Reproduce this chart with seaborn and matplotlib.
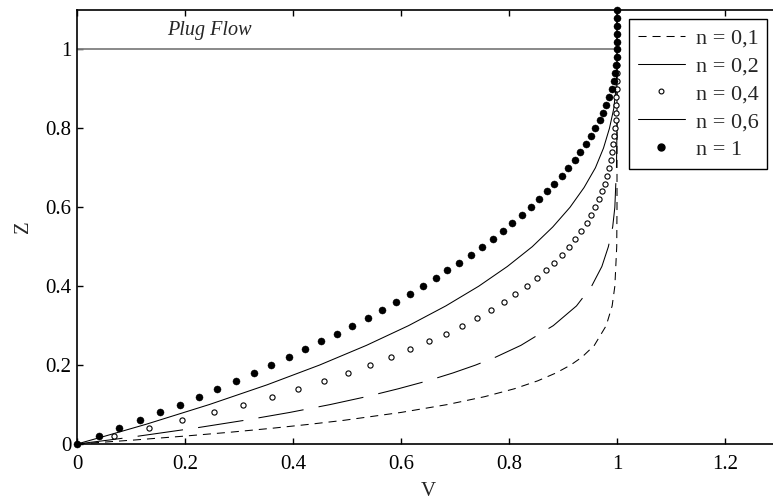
import numpy as np
import pandas as pd
import seaborn as sns
import matplotlib
matplotlib.use("Agg")
import matplotlib.pyplot as plt
from matplotlib.lines import Line2D

# ---------------- data ----------------
z_pts = [0.00, 0.02, 0.04, 0.06, 0.08, 0.10, 0.12, 0.14, 0.16, 0.18,
         0.20, 0.22, 0.24, 0.26, 0.28, 0.30, 0.32, 0.34, 0.36, 0.38,
         0.40, 0.42, 0.44, 0.46, 0.48, 0.50, 0.52, 0.54, 0.56, 0.58,
         0.60, 0.62, 0.64, 0.66, 0.68, 0.70, 0.72, 0.74, 0.76, 0.78,
         0.80, 0.82, 0.84, 0.86, 0.88, 0.90, 0.92, 0.94, 0.96, 0.98,
         1.00, 1.02, 1.04, 1.06, 1.08, 1.10]

v_n1 = [0.000, 0.040, 0.078, 0.116, 0.154, 0.190, 0.226, 0.260, 0.294, 0.328,
        0.360, 0.392, 0.422, 0.452, 0.482, 0.510, 0.538, 0.564, 0.590, 0.616,
        0.640, 0.664, 0.686, 0.708, 0.730, 0.750, 0.770, 0.788, 0.806, 0.824,
        0.840, 0.856, 0.870, 0.884, 0.898, 0.910, 0.922, 0.932, 0.942, 0.952,
        0.960, 0.968, 0.974, 0.980, 0.986, 0.990, 0.994, 0.996, 0.998, 1.000,
        1.000, 1.000, 1.000, 1.000, 1.000, 1.000]

v_n04 = [0.000, 0.068, 0.133, 0.195, 0.253, 0.308, 0.361, 0.410, 0.457, 0.501,
         0.542, 0.581, 0.617, 0.651, 0.683, 0.713, 0.741, 0.766, 0.790, 0.812,
         0.833, 0.851, 0.869, 0.884, 0.899, 0.912, 0.923, 0.934, 0.944, 0.952,
         0.960, 0.966, 0.972, 0.977, 0.982, 0.985, 0.988, 0.991, 0.993, 0.995,
         0.996, 0.998, 0.998, 0.999, 0.999, 1.000, 1.000, 1.000, 1.000, 1.000,
         1.000, 1.000, 1.000, 1.000, 1.000, 1.000]

z_n01 = [0.00, 0.01, 0.02, 0.03, 0.04, 0.05, 0.06, 0.08, 0.10, 0.12, 0.14,
         0.16, 0.18, 0.20, 0.22, 0.25, 0.30, 0.35, 0.40, 0.50, 0.60, 1.10]
v_n01 = [0.000, 0.105, 0.199, 0.285, 0.362, 0.431, 0.494, 0.600, 0.686, 0.755, 0.810,
         0.853, 0.887, 0.914, 0.935, 0.958, 0.980, 0.991, 0.996, 0.9995, 1.000, 1.000]

z_n02 = [0.00, 0.01, 0.02, 0.04, 0.06, 0.08, 0.10, 0.12, 0.14, 0.16, 0.18,
         0.20, 0.22, 0.25, 0.30, 0.35, 0.40, 0.45, 0.50, 0.55, 0.60, 0.70,
         0.80, 1.00, 1.10]
v_n02 = [0.000, 0.059, 0.114, 0.217, 0.310, 0.394, 0.469, 0.536, 0.595, 0.649, 0.696,
         0.738, 0.775, 0.822, 0.882, 0.925, 0.953, 0.972, 0.984, 0.992, 0.996, 0.999,
         1.000, 1.000, 1.000]

z_n06 = [0.00, 0.02, 0.05, 0.10, 0.15, 0.20, 0.25, 0.30, 0.35, 0.40, 0.45,
         0.50, 0.55, 0.60, 0.65, 0.70, 0.75, 0.80, 0.85, 0.90, 0.95, 1.00, 1.10]
v_n06 = [0.000, 0.052, 0.128, 0.245, 0.352, 0.449, 0.536, 0.614, 0.683, 0.744, 0.797,
         0.843, 0.881, 0.913, 0.939, 0.960, 0.975, 0.986, 0.994, 0.998, 1.000, 1.000, 1.000]

plug_v = [0.0, 1.0]
plug_z = [1.0, 1.0]

labels = ["n = 0,1", "n = 0,2", "n = 0,4", "n = 0,6", "n = 1"]
x_ticks = [0, 0.2, 0.4, 0.6, 0.8, 1, 1.2]
x_ticklabels = ["0", "0.2", "0.4", "0.6", "0.8", "1", "1.2"]
y_ticks = [0, 0.2, 0.4, 0.6, 0.8, 1]
y_ticklabels = ["0", "0.2", "0.4", "0.6", "0.8", "1"]

# ---------------- style ----------------
sns.set_theme(style="ticks")
plt.rcParams["font.family"] = ["Liberation Serif", "DejaVu Serif"]
plt.rcParams["lines.scale_dashes"] = False
plt.rcParams["xtick.direction"] = "in"
plt.rcParams["ytick.direction"] = "in"

SHORT_DASH = (0, (5.8, 4.3))
LONG_DASH = (0, (33, 11))

fig = plt.figure(figsize=(7.73, 5.01), dpi=100)
ax = fig.add_axes([77 / 773, 57 / 501, 702 / 773, 434 / 501])

# plug flow line
sns.lineplot(x=plug_v, y=plug_z, ax=ax, color="#808080", lw=1.3,
             sort=False, estimator=None, legend=False)

# lines
sns.lineplot(x=v_n01, y=z_n01, ax=ax, color="black", lw=0.75,
             sort=False, estimator=None, legend=False, linestyle=SHORT_DASH)
sns.lineplot(x=v_n02, y=z_n02, ax=ax, color="black", lw=0.75,
             sort=False, estimator=None, legend=False, linestyle=LONG_DASH)
sns.lineplot(x=v_n06, y=z_n06, ax=ax, color="black", lw=0.75,
             sort=False, estimator=None, legend=False)

# markers
sns.scatterplot(x=v_n04, y=z_pts, ax=ax, marker="o", s=14,
                facecolor="white", edgecolor="black", linewidth=0.8,
                legend=False, zorder=3)
sns.scatterplot(x=v_n1, y=z_pts, ax=ax, marker="o", s=26,
                color="black", edgecolor="black", linewidth=0.3,
                legend=False, zorder=4, clip_on=False)

ax.text(0.246, 1.048, "Plug Flow", style="italic", fontsize=14.5,
        ha="center", va="center")

ax.set_xlim(0, 1.3)
ax.set_ylim(0, 1.1)
ax.set_xticks(x_ticks)
ax.set_xticklabels(x_ticklabels)
ax.set_yticks(y_ticks)
ax.set_yticklabels(y_ticklabels)
ax.tick_params(axis="both", which="both", direction="in", length=4,
               width=1, labelsize=15, top=True, right=True, pad=4, colors="black")
ax.tick_params(axis="x", pad=8)
for sp in ax.spines.values():
    sp.set_visible(True)
    sp.set_color("black")
    sp.set_linewidth(1.2)

ax.set_xlabel("V", fontsize=15, labelpad=6)
ax.set_ylabel("Z", fontsize=15, labelpad=9)

handles = [
    Line2D([], [], color="black", lw=0.75, linestyle=SHORT_DASH),
    Line2D([], [], color="black", lw=0.75),
    Line2D([], [], color="black", lw=0, marker="o", ms=3.5,
           markerfacecolor="white", markeredgewidth=0.8),
    Line2D([], [], color="black", lw=0.75),
    Line2D([], [], color="black", lw=0, marker="o", ms=5),
]
leg = ax.legend(handles, labels, loc="upper left",
                bbox_to_anchor=(629 / 773, 1 - 19 / 501),
                bbox_transform=fig.transFigure, fontsize=16,
                frameon=True, fancybox=False, framealpha=1,
                edgecolor="black", handlelength=2.1, handletextpad=0.5,
                labelspacing=0.33, borderpad=0.4, borderaxespad=0)
leg.get_frame().set_linewidth(1.0)

fig.savefig("out.png", dpi=100)
